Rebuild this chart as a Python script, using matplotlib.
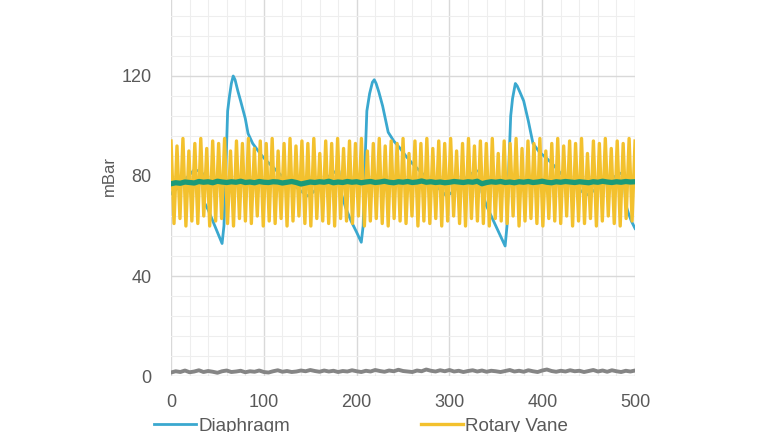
import numpy as np
import matplotlib.pyplot as plt
from matplotlib.ticker import MultipleLocator

# ---- data ----
# Diaphragm (blue): hand-read points
dia_x = [0, 5, 10, 15, 20, 25, 30, 34, 35, 40, 45, 50, 55, 57, 59, 61, 63, 65, 67,
         69, 72, 75, 80, 83, 88, 92, 97, 103, 110, 118, 125, 132, 140, 147,
         153, 160, 166, 172, 178, 181, 183, 188, 194, 200, 205, 207, 209, 211, 214, 217, 219,
         221, 224, 228, 234, 240, 247, 253, 260, 268, 275, 283, 290, 297,
         303, 310, 316, 322, 328, 333, 335, 340, 345, 350, 355, 360, 362, 364, 366, 368, 371,
         373, 376, 380, 385, 390, 397, 405, 413, 420, 428, 435, 442, 448,
         455, 462, 470, 477, 484, 488, 490, 493, 496, 500]
dia_y = [73, 74.5, 76.5, 78.5, 80.5, 82.5, 82, 81, 70, 66.5, 62, 57.5, 53, 60, 82, 106, 112, 117, 120,
         118.5, 114, 110, 103, 97, 93, 91, 88.5, 86, 83.5, 80.5, 78.5, 76.5, 74, 72,
         73.5, 76, 78.5, 80.5, 82, 82, 73.5, 67.5, 62, 57.5, 53.5, 60, 85, 106, 113, 117.5, 118.5,
         117, 113.5, 108, 97.5, 94, 91, 88, 85, 82, 79.5, 77, 74.5, 72,
         73.5, 76, 78.5, 80.5, 82, 82, 73.5, 68, 64, 60, 56, 52, 60, 84, 104, 111, 117,
         116, 113.5, 110, 102, 93, 89.5, 87, 84, 81, 78.5, 76, 74, 72.5,
         74, 76, 78, 79.5, 81, 81.5, 68.5, 65, 62, 59]

# Rotary Vane (yellow): alternating peaks and troughs
rv_peaks = [94, 92, 95, 90, 93, 95, 91, 94, 93, 95, 90, 94, 93, 95, 91, 94,
            93, 95, 90, 93, 95, 92, 94, 93, 95, 89, 94, 93, 95, 91, 94, 93,
            95, 90, 93, 95, 92, 94, 93, 95, 89, 94, 93, 95, 91, 94, 93, 95,
            90, 93, 95, 92, 94, 93, 95, 89, 94, 93, 95, 91, 94, 93, 95, 90,
            93, 95, 92, 94, 93, 95, 89, 94, 93, 95, 91, 94, 93, 95, 94]
rv_troughs = [61, 63, 60, 62, 61, 64, 60, 62, 63, 61, 60, 63, 62, 61, 64, 60,
              62, 61, 63, 60, 62, 64, 61, 60, 63, 62, 61, 60, 63, 62, 61, 64,
              60, 62, 63, 61, 60, 63, 62, 61, 64, 60, 62, 61, 63, 60, 62, 64,
              61, 60, 63, 62, 61, 60, 63, 62, 61, 64, 60, 62, 63, 61, 60, 63,
              62, 61, 64, 60, 62, 61, 63, 60, 62, 64, 61, 60, 63, 62]

# green trace, one value every 5
green_y = [76.9, 77.3, 77.1, 77.6, 77.4, 77.2, 77.8, 77.5, 77.7, 77.3, 77.9, 77.6, 77.4,
           77.7, 77.5, 77.9, 77.4, 77.6, 77.3, 77.8, 77.5, 77.4, 77.7, 77.6, 77.2, 77.5,
           77.8, 77.4, 76.8, 77.2, 77.6, 77.4, 77.7, 77.5, 77.9, 77.3, 77.6, 77.4, 77.8,
           77.5, 77.7, 77.3, 77.6, 77.8, 77.4, 77.6, 77.9, 77.5, 77.3, 77.7, 77.5, 77.8,
           77.4, 77.6, 78.0, 77.5, 77.7, 77.4, 77.6, 77.3, 77.5, 77.8, 77.6, 77.4, 77.7,
           77.5, 77.9, 76.9, 77.4, 77.7, 77.5, 77.8, 77.4, 77.6, 77.3, 77.7, 77.5, 77.8,
           77.4, 77.6, 77.9, 77.5, 77.3, 77.7, 77.5, 77.8, 77.6, 77.4, 77.7, 77.5, 77.3,
           77.7, 77.5, 77.9, 77.6, 77.4, 77.7, 77.5, 77.8, 77.6, 77.7]

# grey trace, one value every 5
grey_y = [1.4, 1.9, 1.6, 2.2, 1.5, 1.8, 2.3, 1.6, 2.0, 1.7, 1.3, 1.9, 2.2, 1.6, 1.8,
          2.1, 1.5, 1.9, 1.7, 2.2, 1.6, 1.4, 1.9, 2.3, 1.7, 2.0, 1.6, 1.8, 2.2, 1.9,
          2.4, 2.0, 1.7, 2.2, 1.8, 2.1, 1.6, 2.0, 1.8, 2.3, 1.9, 1.6, 2.1, 1.8, 2.4,
          2.0, 1.7, 2.2, 1.9, 2.5, 2.0, 1.8, 1.6, 2.2, 1.9, 2.6, 2.1, 1.8, 2.3, 1.9,
          2.4, 1.8, 2.1, 1.6, 2.0, 2.3, 1.8, 2.2, 1.7, 2.1, 1.9, 1.6, 2.0, 2.4, 1.8,
          2.1, 1.7, 2.3, 1.9, 1.6, 2.2, 2.6, 2.0, 1.7, 2.1, 1.8, 2.3, 1.9, 2.1, 1.6,
          2.0, 2.4, 1.8, 2.2, 1.7, 2.3, 1.9, 1.6, 2.1, 1.8, 2.2]

x_ticks = [0, 100, 200, 300, 400, 500]
y_ticks = [0, 40, 80, 120]

# interleave the yellow peaks/troughs on an even grid
rv_y = np.empty(len(rv_peaks) + len(rv_troughs))
rv_y[0::2] = rv_peaks
rv_y[1::2] = rv_troughs
rv_x = np.linspace(0, 500, len(rv_y))
step_x = np.linspace(0, 500, len(green_y))

plt.rcParams['font.family'] = ['Liberation Sans', 'DejaVu Sans']

fig = plt.figure(figsize=(7.68, 4.32), dpi=100)
ax = fig.add_axes([0.2227, 0.1296, 0.6042, 0.926])

ax.plot(dia_x, dia_y, color='#3aa8cf', lw=2.0, zorder=2, label='Diaphragm')
ax.plot(rv_x, rv_y, color='#f3c12e', lw=2.4, zorder=3, label='Rotary Vane',
        solid_joinstyle='round')
ax.plot(step_x, green_y, color='#1b9a78', lw=3.8, zorder=4)
ax.plot(step_x, grey_y, color='#858585', lw=2.8, zorder=4)

ax.set_xlim(0, 500)
ax.set_ylim(0, 160)
ax.set_xticks(x_ticks)
ax.set_yticks(y_ticks)
ax.xaxis.set_minor_locator(MultipleLocator(20))
ax.yaxis.set_minor_locator(MultipleLocator(8))
ax.grid(which='major', color='#d9d9d9', lw=1.0)
ax.grid(which='minor', color='#eeeeee', lw=0.8)
ax.axhline(160, color='#d9d9d9', lw=1.0, zorder=0)
ax.set_axisbelow(True)
for s in ax.spines.values():
    s.set_visible(False)
ax.tick_params(which='both', length=0)
ax.tick_params(axis='x', pad=13, labelsize=13, labelcolor='#595959')
ax.tick_params(axis='y', pad=14, labelsize=13, labelcolor='#595959')
ax.set_ylabel('mBar', fontsize=12, color='#595959', labelpad=3)

fig.legend(loc='center left', bbox_to_anchor=(0.201, 0.014), ncol=2, frameon=False,
           fontsize=13.5, handlelength=2.2, handletextpad=0.15, columnspacing=7.0,
           borderpad=0, borderaxespad=0, labelcolor='#595959')

fig.savefig('out.png', dpi=100)
